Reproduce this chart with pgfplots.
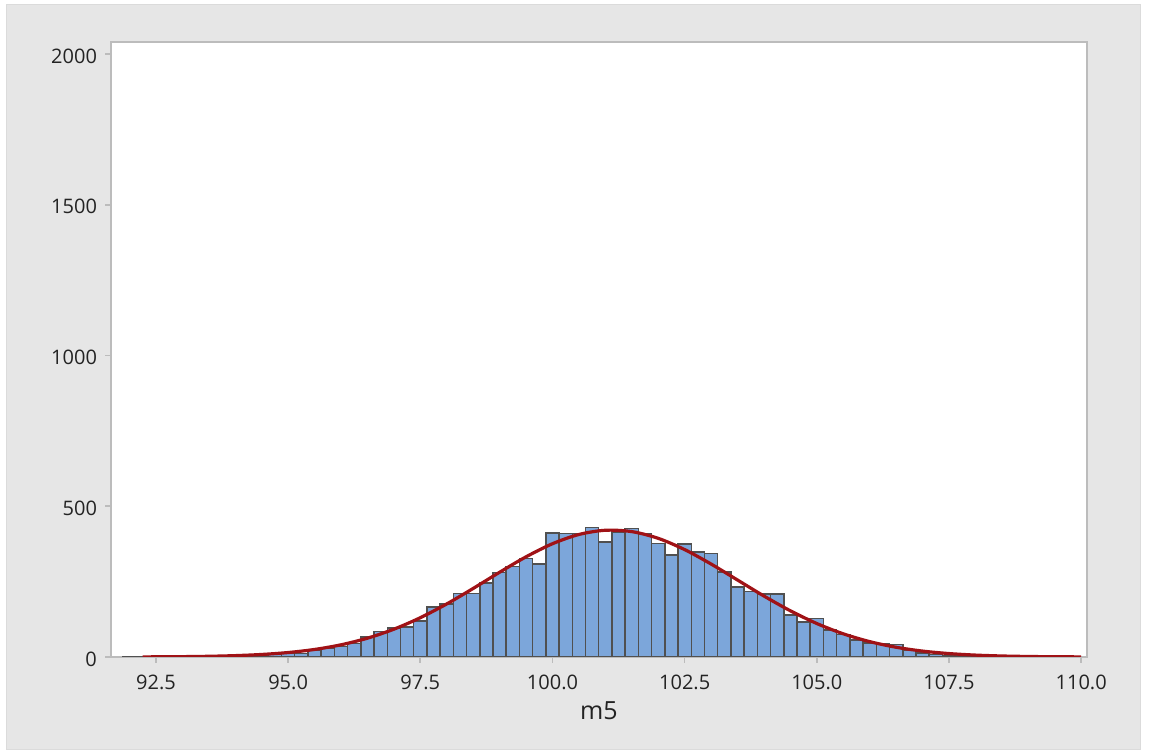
\documentclass[border=0pt]{standalone}
\usepackage{fontspec}
\setmainfont{Open Sans}
\usepackage{pgfplots}
\pgfplotsset{compat=1.18}
\definecolor{bgray}{RGB}{230,230,230}
\definecolor{framegray}{RGB}{188,188,188}
\definecolor{barblue}{RGB}{124,166,218}
\definecolor{baredge}{RGB}{80,80,80}
\definecolor{fitred}{RGB}{160,18,22}
\definecolor{txt}{RGB}{35,35,35}
\begin{document}
\begin{tikzpicture}[x=1pt,y=1pt]
\useasboundingbox (0,0) rectangle (576,377.5);
\fill[white] (0,0) rectangle (576,377.5);
\filldraw[fill=bgray, draw=black!14, line width=0.5pt] (3,2.5) rectangle (570,375);
\begin{axis}[
  at={(55.5pt,49pt)}, anchor=south west,
  scale only axis, width=488pt, height=307.5pt,
  xmin=91.65, xmax=110.11, ymin=0, ymax=2040,
  axis background/.style={fill=white},
  axis line style={draw=framegray, line width=1pt},
  tick pos=left, tick align=outside,
  major tick length=3pt,
  tick style={draw=framegray, line width=0.8pt},
  xtick={92.5,95,97.5,100,102.5,105,107.5,110},
  ytick={0,500,1000,1500,2000},
  /pgf/number format/assume math mode=true,
  /pgf/number format/1000 sep={},
  xticklabel style={/pgf/number format/.cd, fixed, fixed zerofill, precision=1, /tikz/.cd, anchor=center, yshift=-9.5pt, font=\fontsize{10}{12}\selectfont, text=txt},
  yticklabel style={anchor=east, xshift=-0.5pt, yshift=-1pt, font=\fontsize{10}{12}\selectfont, text=txt},
  xlabel={m5},
  xlabel style={at={(rel axis cs:0.5,0)}, anchor=center, yshift=-27pt, font=\fontsize{12.5}{15}\selectfont, text=txt},
  clip=true,
]
\addplot[ybar, bar width=0.25, bar shift=0pt, fill=barblue, draw=baredge, line width=0.75pt] coordinates {
(92.0,1) (92.25,1) (92.5,1) (92.75,1) (93.0,1) (93.25,2) (93.5,2) (93.75,3)
(94.0,5) (94.25,5) (94.5,7) (94.75,9) (95.0,11) (95.25,12) (95.5,21) (95.75,29)
(96.0,34) (96.25,45) (96.5,67) (96.75,84) (97.0,97) (97.25,100) (97.5,120) (97.75,166)
(98.0,175) (98.25,211) (98.5,211) (98.75,246) (99.0,280) (99.25,300) (99.5,327) (99.75,308)
(100.0,411) (100.25,409) (100.5,409) (100.75,429) (101.0,382) (101.25,415) (101.5,426) (101.75,409)
(102.0,376) (102.25,338) (102.5,374) (102.75,349) (103.0,343) (103.25,282) (103.5,233) (103.75,218)
(104.0,209) (104.25,209) (104.5,139) (104.75,116) (105.0,127) (105.25,90) (105.5,75) (105.75,56)
(106.0,47) (106.25,43) (106.5,42) (106.75,23) (107.0,14) (107.25,9) (107.5,5) (107.75,3)
(108.0,2) (108.25,1) (108.5,1)
};
\addplot[smooth, fitred, line width=1.6pt] coordinates {
(92.25,0.4) (92.5,0.56) (93.0,1.17) (93.5,2.36) (94.0,4.56) (94.5,8.42) (95.0,14.8) (95.5,25.0)
(96.0,40.4) (96.5,62.4) (97.0,92.2) (97.5,130.3) (98.0,176.0) (98.5,227.4) (99.0,281.1) (99.5,332.3)
(100.0,375.7) (100.5,406.4) (101.0,420.4) (101.5,415.9) (102.0,393.6) (102.5,356.2) (103.0,308.4) (103.5,255.3)
(104.0,202.2) (104.5,153.2) (105.0,111.0) (105.5,76.9) (106.0,51.0) (106.5,32.3) (107.0,19.6) (107.5,11.4)
(108.0,6.30) (108.5,3.34) (109.0,1.70) (109.5,0.82) (110.0,0.38)
};
\end{axis}
\end{tikzpicture}
\end{document}
